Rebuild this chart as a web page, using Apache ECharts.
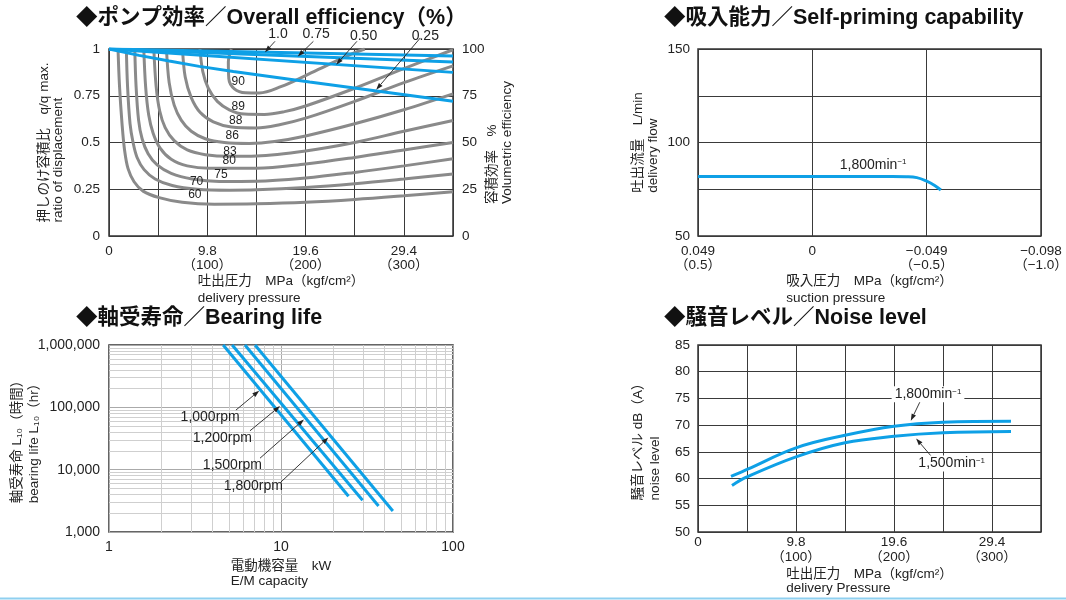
<!DOCTYPE html>
<html>
<head>
<meta charset="utf-8">
<script src="https://cdn.jsdelivr.net/npm/echarts@6/dist/echarts.min.js"></script>
<style>
html,body{margin:0;padding:0;background:#fff;}
#main{width:1066px;height:600px;}
</style>
</head>
<body>
<div id="main"></div>
<script>
// ---- pump efficiency (x: MPa, y: q/q max) ----
var eff60 = [[0.9,1],[1.05,0.8],[1.3,0.6],[1.55,0.46],[1.9,0.36],[2.5,0.29],[3.4,0.24],[5,0.205],[7.3,0.18],[10.5,0.17],[14.7,0.172],[19.6,0.18],[24.5,0.195],[29.4,0.215],[34.3,0.237]];
var eff70 = [[1.73,1],[1.85,0.8],[2.1,0.6],[2.4,0.5],[2.8,0.42],[3.5,0.355],[4.6,0.305],[6.3,0.27],[8.8,0.25],[12,0.245],[14.7,0.247],[19.6,0.26],[24.5,0.28],[29.4,0.305],[34.3,0.332]];
var eff75 = [[2.57,1],[2.7,0.8],[2.95,0.62],[3.3,0.52],[3.9,0.44],[4.8,0.38],[6.2,0.335],[8.3,0.305],[11,0.292],[14.7,0.293],[19.6,0.31],[24.5,0.34],[29.4,0.375],[34.3,0.413]];
var eff80 = [[3.47,1],[3.65,0.8],[3.95,0.65],[4.4,0.55],[5.1,0.47],[6.2,0.41],[7.8,0.375],[10,0.362],[14.7,0.362],[19.6,0.385],[24.5,0.42],[29.4,0.46],[34.3,0.5]];
var eff83 = [[4.47,1],[4.7,0.8],[5.05,0.67],[5.6,0.58],[6.5,0.51],[7.8,0.46],[9.6,0.435],[12,0.426],[14.7,0.428],[19.6,0.455],[24.5,0.5],[29.4,0.56],[34.3,0.618]];
var eff86 = [[5.73,1],[6.0,0.82],[6.5,0.7],[7.2,0.62],[8.2,0.56],[9.6,0.52],[11.5,0.5],[14,0.495],[16.5,0.505],[19.6,0.535],[24.5,0.6],[29.4,0.675],[34.3,0.76]];
var eff88 = [[7.33,1],[7.6,0.85],[8.2,0.74],[9.1,0.66],[10.4,0.61],[12.2,0.583],[14.7,0.578],[17,0.595],[19.6,0.63],[24.5,0.72],[29.4,0.82],[34.3,0.91]];
var eff89 = [[9.07,1],[9.35,0.88],[9.9,0.79],[10.8,0.72],[12,0.675],[13.5,0.652],[15.5,0.65],[17.5,0.665],[19.6,0.695],[24.5,0.79],[29.4,0.895],[34.3,0.996]];
var eff90 = [[12.2,1],[11.9,0.93],[11.95,0.84],[12.5,0.787],[13.6,0.766],[15,0.765],[17.2,0.8],[19.6,0.858],[22.2,0.925],[24.5,0.98],[25.5,1]];
var effLevels = ['60','70','75','80','83','86','88','89','90'];
var effLabelPos = [[8.56,0.22],[8.73,0.291],[11.16,0.33],[11.99,0.402],[12.06,0.452],[12.29,0.536],[12.63,0.616],[12.89,0.693],[12.89,0.826]];

var vol100 = [[0,1],[34.3,0.962]];
var vol75 = [[0,1],[34.3,0.93]];
var vol50 = [[0,1],[34.3,0.875]];
var vol25 = [[0,1],[3,0.966],[6,0.936],[9,0.907],[12.4,0.88],[20,0.824],[34.3,0.721]];
var volNames = ['1.0','0.75','0.50','0.25'];
var volNamePos = [[16.85,1.077],[20.65,1.077],[25.38,1.071],[31.54,1.071]];
var volArrows = [[16.55,1.041,15.55,0.982],[20.38,1.041,18.82,0.96],[24.72,1.041,22.65,0.916],[31.04,1.059,26.64,0.782]];

var pressTicks = [0, 9.8, 19.6, 29.4];
var pressTickLabels = ['0','9.8\n（100）','19.6\n（200）','29.4\n（300）'];

// ---- self-priming (x: kgf/cm2, y: L/min) ----
var suctionTicks = [0.5, 0, -0.5, -1];
var suctionTickLabels = ['0.049\n（0.5）','0','−0.049\n（−0.5）','−0.098\n（−1.0）'];
var flow1800 = [[0.5,81.8],[0,81.8],[-0.35,81.8],[-0.41,81.7],[-0.457,81.2],[-0.5,79.3],[-0.535,77],[-0.562,74.6]];
var flowNamePos = [[-0.266,88]];

// ---- bearing life (x: kW, y: hr) ----
var bear1000 = [[4.61,1000000],[24.7,3750]];
var bear1200 = [[5.2,1000000],[29.8,3236]];
var bear1500 = [[6.17,1000000],[36.9,2618]];
var bear1800 = [[7.06,1000000],[44.7,2177]];
var bearNames = ['1,000rpm','1,200rpm','1,500rpm','1,800rpm'];
var bearNamePos = [[3.875,70500],[4.56,32070],[5.22,11800],[6.9,5480]];
var bearArrows = [[5.47,90400,7.47,184600],[6.6,42000,9.87,104700],[7.55,15280,13.6,64000],[10,6350,18.86,32900]];
var minorX = [2,3,4,5,6,7,8,9,20,30,40,50,60,70,80,90];
var minorY = [2000,3000,4000,5000,6000,7000,8000,9000,20000,30000,40000,50000,60000,70000,80000,90000,200000,300000,400000,500000,600000,700000,800000,900000];

// ---- noise level (x: MPa, y: dB(A)) ----
var noise1800 = [[3.3,60.4],[4.9,61.7],[9.8,65.75],[14.7,68.1],[19.6,69.8],[24.5,70.55],[31.3,70.75]];
var noise1500 = [[3.4,58.7],[4.9,60.3],[9.8,64.06],[14.7,66.7],[19.6,67.9],[24.5,68.56],[31.3,68.8]];
var noiseNames = ['1,800min{s|−1}','1,500min{s|−1}'];
var noiseNamePos = [[23.0,75.76],[25.37,62.82]];
var noiseArrows = [[22.2,74.38,21.28,70.81],[23.38,64.06,21.81,67.51]];

var FONT = "'Liberation Sans', 'Noto Sans CJK JP', sans-serif";
var BLUE = '#0ea0e6';
var GRAY = '#8a8a8a';
var INK = '#222';
var SUP = {s:{fontSize:8, fontFamily:FONT, verticalAlign:'top', fill:INK}};

function pickLabel(ticks, labels){
	return function(v){
		for(var i=0;i<ticks.length;i++){
			if(Math.abs(v-ticks[i])<0.01) return labels[i];
		}
		return '';
	};
}
function commas(v){
	return String(Math.round(v)).replace(/\B(?=(\d{3})+(?!\d))/g, ',');
}
function axisName(text, gap, lh){
	return {
		name:text, nameLocation:'middle', nameGap:gap, nameMoveOverlap:false,
		nameTextStyle:{rich:{l:{align:'left', fontSize:13.5, lineHeight:lh, color:INK, fontFamily:FONT}}}
	};
}
function baseAxis(extra){
	var a = {
		axisLine:{show:false}, axisTick:{show:false},
		splitLine:{show:true, lineStyle:{color:'#3a3a3a', width:1}},
		axisLabel:{color:INK, fontSize:13.5, lineHeight:14, fontFamily:FONT}
	};
	for(var k in extra){
		if(k==='axisLabel' || k==='splitLine'){
			for(var j in extra[k]) a[k][j]=extra[k][j];
		}else{
			a[k]=extra[k];
		}
	}
	return a;
}
function merge(a,b){ for(var k in b) a[k]=b[k]; return a; }

function arrowSeries(xi, yi, segs){
	return {
		type:'custom', xAxisIndex:xi, yAxisIndex:yi, data:segs, silent:true, z:6, clip:false,
		encode:{x:[0,2], y:[1,3]},
		renderItem:function(params, api){
			var a = api.coord([api.value(0), api.value(1)]);
			var b = api.coord([api.value(2), api.value(3)]);
			var dx=b[0]-a[0], dy=b[1]-a[1], len=Math.sqrt(dx*dx+dy*dy);
			var ux=dx/len, uy=dy/len, hl=7, hw=2.4;
			var bx=b[0]-ux*hl, by=b[1]-uy*hl;
			return {type:'group', children:[
				{type:'line', shape:{x1:a[0],y1:a[1],x2:bx,y2:by}, style:{stroke:INK, lineWidth:0.9}},
				{type:'polygon', shape:{points:[[b[0],b[1]],[bx-uy*hw,by+ux*hw],[bx+uy*hw,by-ux*hw]]}, style:{fill:INK}}
			]};
		}
	};
}
function noteSeries(xi, yi, pos, texts, size, bg){
	return {
		type:'custom', xAxisIndex:xi, yAxisIndex:yi, data:pos, silent:true, z:7, clip:false,
		renderItem:function(params, api){
			var p = api.coord([api.value(0), api.value(1)]);
			return {type:'text', x:p[0], y:p[1], style:{
				text:texts[params.dataIndex], fontSize:size, fontFamily:FONT, fill:INK,
				align:'center', verticalAlign:'middle', rich:SUP,
				backgroundColor:bg||'transparent', padding:bg?[1,3]:0
			}};
		}
	};
}
function curve(xi, yi, data, color, smooth, z){
	return {type:'line', xAxisIndex:xi, yAxisIndex:yi, data:data, showSymbol:false, symbol:'none',
		smooth:smooth, silent:true, z:z, lineStyle:{color:color, width:3}};
}

var myChart = echarts.init(document.getElementById('main'), null, {renderer:'canvas'});
var titleStyle = {fontSize:21.5, fontWeight:'bold', color:'#111', fontFamily:FONT};
var gridBox = {show:true, borderColor:'#333', borderWidth:1.5, backgroundColor:'transparent', containLabel:false, outerBoundsMode:'none'};

option = {
	animation:false,
	backgroundColor:'#fff',
	title:[
		{text:'◆ポンプ効率／Overall efficiency（%）', left:76, top:7, padding:0, textStyle:titleStyle},
		{text:'◆吸入能力／Self-priming capability', left:664, top:7, padding:0, textStyle:titleStyle},
		{text:'◆軸受寿命／Bearing life', left:76, top:307, padding:0, textStyle:titleStyle},
		{text:'◆騒音レベル／Noise level', left:664, top:307, padding:0, textStyle:titleStyle}
	],
	grid:[
		merge({left:109, top:49, width:344, height:187}, gridBox),
		merge({left:698, top:49, width:343, height:187}, gridBox),
		merge({left:109, top:345, width:344, height:187}, merge({}, gridBox, {borderColor:'#555', borderWidth:2})),
		merge({left:698, top:345, width:343, height:187}, gridBox)
	],
	xAxis:[
		merge(baseAxis({gridIndex:0, type:'value', min:0, max:34.3, interval:4.9,
			axisLabel:{margin:8, formatter:pickLabel(pressTicks, pressTickLabels)}}),
			axisName('{l|吐出圧力　MPa（kgf/cm²）}\n{l|delivery pressure}', 37, 17)),
		merge(baseAxis({gridIndex:1, type:'value', min:-1, max:0.5, interval:0.5, inverse:true,
			axisLabel:{margin:8, formatter:pickLabel(suctionTicks, suctionTickLabels)}}),
			axisName('{l|吸入圧力　MPa（kgf/cm²）}\n{l|suction pressure}', 37, 17)),
		merge(baseAxis({gridIndex:2, type:'log', logBase:10, min:1, max:100,
			splitLine:{lineStyle:{color:'#aaa', width:1}},
			axisLabel:{margin:8, fontSize:14, formatter:function(v){return commas(v);}}}),
			axisName('{l|電動機容量　kW}\n{l|E/M capacity}', 27, 15)),
		merge(baseAxis({gridIndex:3, type:'value', min:0, max:34.3, interval:4.9,
			axisLabel:{margin:3, lineHeight:15, formatter:pickLabel(pressTicks, pressTickLabels)}}),
			axisName('{l|吐出圧力　MPa（kgf/cm²）}\n{l|delivery Pressure}', 35, 14))
	],
	yAxis:[
		merge(baseAxis({gridIndex:0, type:'value', min:0, max:1, interval:0.25, nameRotate:90,
			axisLabel:{margin:9, formatter:function(v){return String(v);}}}),
			axisName('{l|押しのけ容積比　q/q max.}\n{l|ratio of displacement}', 44, 14)),
		merge(baseAxis({gridIndex:0, type:'value', min:0, max:100, interval:25, position:'right', nameRotate:90,
			splitLine:{show:false}, axisLabel:{margin:9}}),
			axisName('{l|容積効率　%}\n{l|Volumetric efficiency}', 32, 15)),
		merge(baseAxis({gridIndex:1, type:'value', min:50, max:150, interval:25, nameRotate:90,
			axisLabel:{margin:8, formatter:function(v){return v%50===0?String(v):'';}}}),
			axisName('{l|吐出流量　L/min}\n{l|delivery flow}', 37, 15)),
		merge(baseAxis({gridIndex:2, type:'log', logBase:10, min:1000, max:1000000, nameRotate:90,
			splitLine:{lineStyle:{color:'#aaa', width:1}},
			axisLabel:{margin:9, fontSize:14, formatter:function(v){return commas(v);}}}),
			axisName('{l|軸受寿命 L₁₀（時間）}\n{l|bearing life L₁₀（hr）}', 66, 17)),
		merge(baseAxis({gridIndex:3, type:'value', min:50, max:85, interval:5, nameRotate:90,
			axisLabel:{margin:8}}),
			axisName('{l|騒音レベル dB（A）}\n{l|noise level}', 34, 17))
	],
	graphic:[
		{type:'line', silent:true, shape:{x1:0, y1:598.5, x2:1066, y2:598.5}, style:{stroke:'#8fd0f0', lineWidth:2}}
	],
	series:[
		curve(0,0,eff60,GRAY,0.35,2), curve(0,0,eff70,GRAY,0.35,2), curve(0,0,eff75,GRAY,0.35,2),
		curve(0,0,eff80,GRAY,0.35,2), curve(0,0,eff83,GRAY,0.35,2), curve(0,0,eff86,GRAY,0.35,2),
		curve(0,0,eff88,GRAY,0.35,2), curve(0,0,eff89,GRAY,0.35,2), curve(0,0,eff90,GRAY,0.35,2),
		curve(0,0,vol25,BLUE,false,3), curve(0,0,vol50,BLUE,false,3),
		curve(0,0,vol75,BLUE,false,3), curve(0,0,vol100,BLUE,false,3),
		noteSeries(0,0,effLabelPos,effLevels,12),
		noteSeries(0,0,volNamePos,volNames,14),
		arrowSeries(0,0,volArrows),

		curve(1,2,flow1800,BLUE,0.4,3),
		noteSeries(1,2,flowNamePos,['1,800min{s|−1}'],14),

		merge(curve(2,3,bear1000,BLUE,false,3), {markLine:{silent:true, symbol:'none', z:1, animation:false,
			label:{show:false}, lineStyle:{color:'#cfcfcf', width:1, type:'solid'},
			emphasis:{disabled:true},
			data:minorX.map(function(v){return {xAxis:v};}).concat(minorY.map(function(v){return {yAxis:v};}))}}),
		curve(2,3,bear1200,BLUE,false,3), curve(2,3,bear1500,BLUE,false,3), curve(2,3,bear1800,BLUE,false,3),
		noteSeries(2,3,bearNamePos,bearNames,14),
		arrowSeries(2,3,bearArrows),

		curve(3,4,noise1800,BLUE,0.4,3), curve(3,4,noise1500,BLUE,0.4,3),
		noteSeries(3,4,noiseNamePos,noiseNames,14,'#fff'),
		arrowSeries(3,4,noiseArrows)
	]
};
myChart.setOption(option);
</script>
</body>
</html>
